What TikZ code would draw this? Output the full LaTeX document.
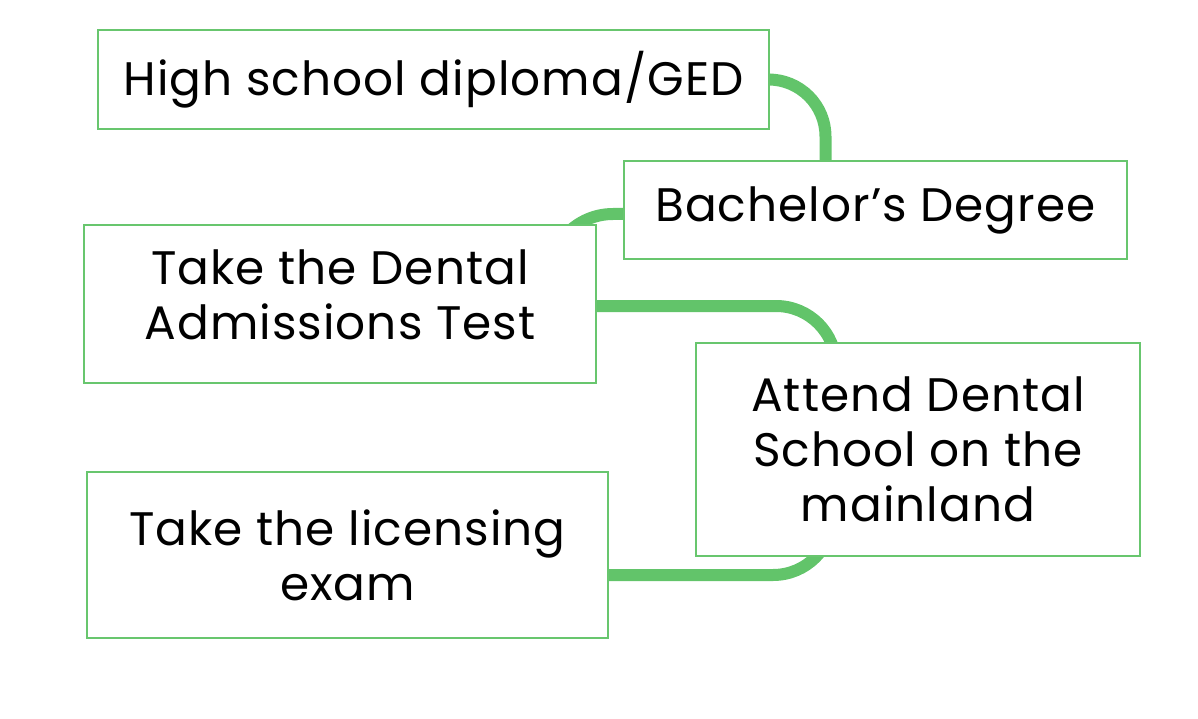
\documentclass[tikz,border=0pt]{standalone}
\usepackage{fontspec}
\setmainfont[LetterSpace=2.2]{Poppins}
\usetikzlibrary{backgrounds}
\definecolor{stagegreen}{RGB}{104,198,110}
\definecolor{linkgreen}{RGB}{98,196,106}
\begin{document}
\begin{tikzpicture}[x=1pt,y=-1pt,
    stage/.style={draw=stagegreen,line width=2pt,fill=white,align=center,
      inner sep=0pt,font=\fontsize{47}{55}\selectfont},
    link/.style={draw=linkgreen,line width=12pt}]
      \useasboundingbox (0,0) rectangle (1198,719);
      \node[stage,minimum width=671pt,minimum height=99pt] (diploma) at (433.5,79.5)
        {High school diploma/GED};
      \node[stage,minimum width=503pt,minimum height=98pt] (bachelor) at (875.5,210)
        {Bachelor’s Degree};
      \node[stage,minimum width=512pt,minimum height=158pt,text depth=18pt] (dat) at (340,304)
        {Take the Dental\\Admissions Test};
      \node[stage,minimum width=444pt,minimum height=213pt] (school) at (918,449.5)
        {Attend Dental\\School on the\\mainland};
      \node[stage,minimum width=521pt,minimum height=166pt] (exam) at (347.5,555)
        {Take the licensing\\exam};
      \begin{scope}[on background layer]
        \draw[link,rounded corners=57pt](diploma.east)-|([xshift=-50pt]bachelor.north);
        \draw[link,rounded corners=64pt]([yshift=-4pt]bachelor.west)-|([xshift=-48pt]dat.east);
        \draw[link,rounded corners=60pt]([yshift=-2pt]dat.east)-|([xshift=-82pt]school.center);
        \draw[link,rounded corners=60pt]([xshift=-85pt]school.center)|-([yshift=-20pt]exam.east);
      \end{scope}
    \end{tikzpicture}
\end{document}
